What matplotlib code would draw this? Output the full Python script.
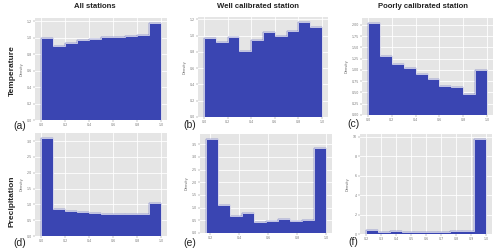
import numpy as np
import matplotlib
matplotlib.use("Agg")
import matplotlib.pyplot as plt

# ---- data ----
edges_std = np.linspace(0.0, 1.0, 11)
edges_e = np.linspace(0.173, 1.0, 11)
edges_f = np.linspace(0.2, 1.0, 11)

temp_all = [1.00, 0.90, 0.93, 0.97, 0.98, 1.01, 1.01, 1.02, 1.03, 1.18]
temp_well = [0.97, 0.92, 0.98, 0.81, 0.95, 1.05, 1.00, 1.06, 1.17, 1.11]
temp_poor = [2.05, 1.31, 1.13, 1.05, 0.90, 0.80, 0.65, 0.62, 0.47, 0.99]
prec_all = [3.10, 0.86, 0.79, 0.75, 0.73, 0.70, 0.68, 0.69, 0.71, 1.03]
prec_well = [3.72, 1.10, 0.66, 0.78, 0.45, 0.47, 0.57, 0.46, 0.53, 3.35]
prec_poor = [0.45, 0.22, 0.30, 0.25, 0.25, 0.25, 0.17, 0.35, 0.35, 9.80]

col_titles = ["All stations", "Well calibrated station", "Poorly calibrated station"]
row_titles = ["Temperature", "Precipitation"]
panel_labels = ["(a)", "(b)", "(c)", "(d)", "(e)", "(f)"]

yticks = [
    np.arange(0, 1.21, 0.2),
    np.arange(0, 1.21, 0.2),
    np.arange(0, 2.01, 0.25),
    np.arange(0, 3.01, 0.5),
    np.arange(0, 3.51, 0.5),
    np.arange(0, 10.1, 2),
]
xticks = [
    np.arange(0, 1.01, 0.2),
    np.arange(0, 1.01, 0.2),
    np.arange(0, 1.01, 0.2),
    np.arange(0, 1.01, 0.2),
    np.arange(0.2, 1.01, 0.2),
    np.arange(0.2, 1.01, 0.1),
]
ytick_fmt = ["%.1f", "%.1f", "%.2f", "%.1f", "%.1f", "%d"]

series = [temp_all, temp_well, temp_poor, prec_all, prec_well, prec_poor]
edges = [edges_std, edges_std, edges_std, edges_std, edges_e, edges_f]

plt.style.use("ggplot")
W, H = 500, 252
fig = plt.figure(figsize=(5.0, 2.52), dpi=100)

# axes boxes in pixels: (x0, y0_top, x1, y1_bottom)
boxes = [
    (35, 18, 167, 120),
    (198, 17, 328, 117),
    (362, 18, 493, 115),
    (35, 133, 167, 236),
    (200, 134, 332, 233),
    (360, 134, 492, 234),
]
bar_color = "#3a45b2"
outline = "#dcdcec"
FONT = "Liberation Sans"

for i, (vals, e, box) in enumerate(zip(series, edges, boxes)):
    x0, y0, x1, y1 = box
    ax = fig.add_axes([x0 / W, 1 - y1 / H, (x1 - x0) / W, (y1 - y0) / H])
    ax.set_facecolor("#e5e5e5")
    lefts = e[:-1]
    widths = np.diff(e)
    ax.bar(lefts, vals, width=widths, align="edge", color=bar_color,
           edgecolor=bar_color, linewidth=0.3)
    ax.stairs(vals, e, color=outline, linewidth=0.6, baseline=0, fill=False)
    ax.set_xticks(xticks[i])
    ax.set_xticklabels(["%.1f" % v for v in xticks[i]])
    ax.set_yticks(yticks[i])
    ax.set_yticklabels([ytick_fmt[i] % v for v in yticks[i]])
    ax.tick_params(labelsize=2.3, colors="#777777", length=1.2, width=0.3, pad=1)
    ax.grid(True, color="white", linewidth=0.6)
    ax.set_axisbelow(True)
    ax.set_ylabel("Density", fontsize=2.6, color="#666666", labelpad=2)
    for s in ax.spines.values():
        s.set_visible(False)
    # panel label
    lx = [20, 190, 353, 20, 190, 353][i]
    ly = [126, 125, 124, 243, 243, 242][i]
    fig.text(lx / W, 1 - ly / H, panel_labels[i], fontsize=7.5, family=FONT,
             ha="center", va="center", color="#222222")

for x, t in zip([95, 258, 423], col_titles):
    fig.text(x / W, 1 - 7 / H, t, fontsize=5.6, fontweight="bold", family=FONT,
             ha="center", va="center", color="#222222")
for y, t in zip([71, 201], row_titles):
    fig.text(12 / W, 1 - y / H, t, fontsize=6.0, fontweight="bold", family=FONT,
             rotation=90, ha="center", va="center", color="#222222")

fig.savefig("out.png", dpi=100)
